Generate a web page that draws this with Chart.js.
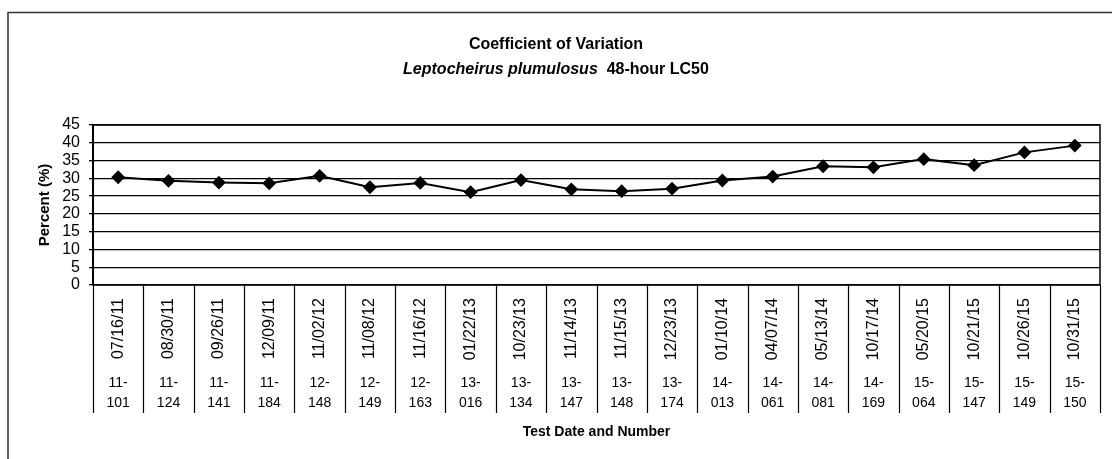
<!DOCTYPE html>
<html>
<head>
<meta charset="utf-8">
<title>Coefficient of Variation</title>
<script src="https://cdn.jsdelivr.net/npm/chart.js@4/dist/chart.umd.min.js"></script>
<style>
  html, body { margin: 0; padding: 0; background: #fff; }
  #wrap { width: 1112px; height: 459px; position: relative; }
</style>
</head>
<body>
<div id="wrap"><canvas id="cv"></canvas></div>
<script>
// Test dates and lab test numbers, one per category
const testDates = ['07/16/11','08/30/11','09/26/11','12/09/11','11/02/12','11/08/12','11/16/12','01/22/13','10/23/13','11/14/13',
                   '11/15/13','12/23/13','01/10/14','04/07/14','05/13/14','10/17/14','05/20/15','10/21/15','10/26/15','10/31/15'];
const testNumbers = [['11-','101'],['11-','124'],['11-','141'],['11-','184'],['12-','148'],['12-','149'],['12-','163'],['13-','016'],['13-','134'],['13-','147'],
                     ['13-','148'],['13-','174'],['14-','013'],['14-','061'],['14-','081'],['14-','169'],['15-','064'],['15-','147'],['15-','149'],['15-','150']];
// Coefficient of variation (%) for each test
const cvPercent = [30.3, 29.3, 28.8, 28.6, 30.7, 27.5, 28.7, 26.1, 29.5, 26.9,
                   26.4, 27.1, 29.4, 30.5, 33.4, 33.1, 35.4, 33.7, 37.3, 39.2];
// Value axis ticks
const yTicks = [0, 5, 10, 15, 20, 25, 30, 35, 40, 45];

const FONT = '"Liberation Sans", Arial, Helvetica, sans-serif';

// Two-line heading with an italic species name
const headingPlugin = {
  id: 'heading',
  afterDraw(chart) {
    const ctx = chart.ctx;
    const cx = 556;
    ctx.save();
    ctx.fillStyle = '#000';
    ctx.textBaseline = 'middle';
    ctx.textAlign = 'center';
    ctx.font = 'bold 16px ' + FONT;
    ctx.fillText('Coefficient of Variation', cx, 45);
    const italicPart = 'Leptocheirus plumulosus';
    const plainPart = '  48-hour LC50';
    ctx.font = 'italic bold 16px ' + FONT;
    const w1 = ctx.measureText(italicPart).width;
    ctx.font = 'bold 16px ' + FONT;
    const w2 = ctx.measureText(plainPart).width;
    const x = cx - (w1 + w2) / 2;
    ctx.textAlign = 'left';
    ctx.font = 'italic bold 16px ' + FONT;
    ctx.fillText(italicPart, x, 70);
    ctx.font = 'bold 16px ' + FONT;
    ctx.fillText(plainPart, x + w1, 70);
    ctx.restore();
  }
};

// Outer frame (top and left edges), plot border and the category dividers of the label table
const framePlugin = {
  id: 'frame',
  beforeDraw(chart) {
    const ctx = chart.ctx;
    ctx.save();
    ctx.strokeStyle = '#333';
    ctx.lineWidth = 1.5;
    ctx.beginPath();
    ctx.moveTo(8, 459);
    ctx.lineTo(8, 12.5);
    ctx.lineTo(1112, 12.5);
    ctx.stroke();
    ctx.restore();
  },
  afterDraw(chart) {
    const ctx = chart.ctx;
    const a = chart.chartArea;
    const xs = chart.scales.x;
    const n = testDates.length;
    ctx.save();
    ctx.strokeStyle = '#000';
    ctx.lineWidth = 1.5;
    ctx.strokeRect(a.left, a.top, a.right - a.left, a.bottom - a.top);
    ctx.lineWidth = 1.2;
    const tableBottom = 413;
    for (let i = 0; i <= n; i++) {
      let px;
      if (i === 0) px = a.left;
      else if (i === n) px = a.right;
      else px = (xs.getPixelForValue(i - 1) + xs.getPixelForValue(i)) / 2;
      px = Math.round(px) + 0.5;
      ctx.beginPath();
      ctx.moveTo(px, a.bottom);
      ctx.lineTo(px, tableBottom);
      ctx.stroke();
    }
    ctx.restore();
  }
};

new Chart(document.getElementById('cv'), {
  type: 'line',
  data: {
    labels: testDates,
    datasets: [{
      data: cvPercent,
      borderColor: '#000',
      borderWidth: 2,
      backgroundColor: '#000',
      pointStyle: 'rectRot',
      pointRadius: 5.5,
      pointBackgroundColor: '#000',
      pointBorderColor: '#000',
      tension: 0,
      fill: false
    }]
  },
  options: {
    responsive: true,
    maintainAspectRatio: false,
    animation: false,
    devicePixelRatio: 1,
    layout: { padding: { top: 125, right: 12, left: 0, bottom: 0 } },
    plugins: {
      legend: { display: false },
      tooltip: { enabled: false },
      title: { display: false }
    },
    scales: {
      x: {
        type: 'category',
        position: 'bottom',
        weight: 0,
        offset: true,
        grid: { display: false, drawTicks: false },
        border: { display: false },
        ticks: {
          autoSkip: false,
          minRotation: 90,
          maxRotation: 90,
          padding: 13,
          color: '#000',
          font: { family: FONT, size: 16 }
        },
        afterFit(s) { s.height = 88; }
      },
      x2: {
        type: 'category',
        position: 'bottom',
        weight: 1,
        offset: true,
        labels: testNumbers,
        grid: { display: false, drawTicks: false },
        border: { display: false },
        ticks: {
          autoSkip: false,
          minRotation: 0,
          maxRotation: 0,
          padding: 0,
          color: '#000',
          font: { family: FONT, size: 14, lineHeight: '20px' }
        },
        title: {
          display: true,
          text: 'Test Date and Number',
          color: '#000',
          font: { family: FONT, size: 14, weight: 'bold' },
          padding: { top: 0, bottom: 18 }
        },
        afterFit(s) { s.height = 86; }
      },
      y: {
        min: yTicks[0],
        max: yTicks[yTicks.length - 1],
        grid: { color: '#000', lineWidth: 1.3, tickLength: 4, drawTicks: true },
        border: { display: true, color: '#000', width: 2 },
        afterBuildTicks(s) { s.ticks = yTicks.map(v => ({ value: v })); },
        ticks: {
          autoSkip: false,
          padding: 9,
          color: '#000',
          font: { family: FONT, size: 16, lineHeight: 1 }
        },
        title: {
          display: true,
          text: 'Percent (%)',
          color: '#000',
          font: { family: FONT, size: 15, weight: 'bold' },
          padding: { top: 36, bottom: 0 }
        },
        afterFit(s) { s.width = 93; }
      }
    }
  },
  plugins: [headingPlugin, framePlugin]
});
</script>
</body>
</html>
